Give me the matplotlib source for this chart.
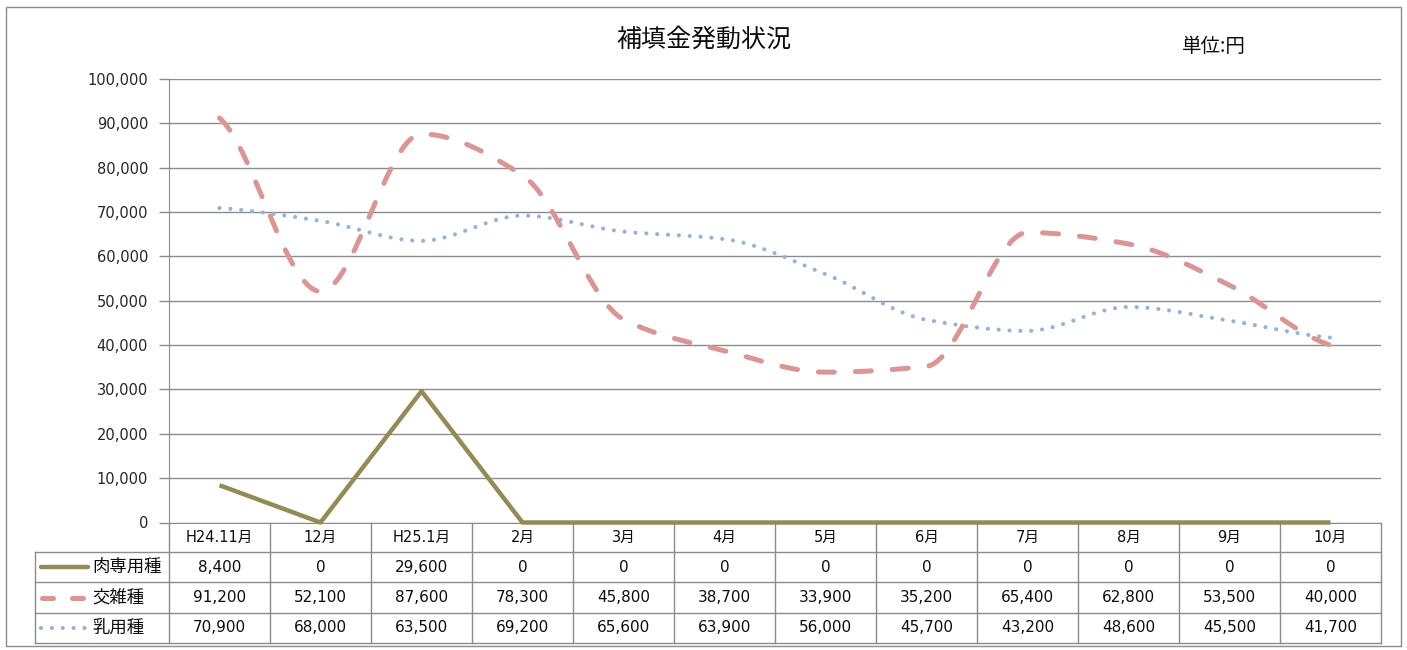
import matplotlib.pyplot as plt
import numpy as np
from matplotlib.path import Path
from matplotlib.patches import PathPatch, Rectangle
from matplotlib.transforms import blended_transform_factory

plt.rcParams['font.family'] = ['DejaVu Sans', 'Noto Sans CJK JP']

# data
months = ['H24.11月', '12月', 'H25.1月', '2月', '3月', '4月', '5月', '6月', '7月', '8月', '9月', '10月']
series_names = ['肉専用種', '交雑種', '乳用種']
niku = [8400, 0, 29600, 0, 0, 0, 0, 0, 0, 0, 0, 0]
kozatsu = [91200, 52100, 87600, 78300, 45800, 38700, 33900, 35200, 65400, 62800, 53500, 40000]
nyuyo = [70900, 68000, 63500, 69200, 65600, 63900, 56000, 45700, 43200, 48600, 45500, 41700]
yticks = [0, 10000, 20000, 30000, 40000, 50000, 60000, 70000, 80000, 90000, 100000]

c_niku = '#948A54'
c_koz = '#D99694'
c_nyu = '#95B3D7'
grid_c = '#8C8C8C'
cjk = ['Noto Sans CJK JP', 'DejaVu Sans']

W, H = 1407, 650
fig = plt.figure(figsize=(W / 100, H / 100), dpi=100)

# overlay in pixel coords for frame / table
ov = fig.add_axes([0, 0, 1, 1], zorder=0)
ov.set_xlim(0, W)
ov.set_ylim(H, 0)
ov.axis('off')
ov.add_patch(Rectangle((6, 7), 1395, 639, fill=False, ec='#8C8C8C', lw=1))

# plot area
x0, x1, ytop, ybot = 169, 1381, 79, 522.5
ax = fig.add_axes([x0 / W, 1 - ybot / H, (x1 - x0) / W, (ybot - ytop) / H], zorder=1)
ax.patch.set_alpha(0)
ax.set_xlim(-0.5, len(months) - 0.5)
ax.set_ylim(0, 100000)
ax.set_yticks(yticks)
ax.set_yticklabels([f'{v:,}' for v in yticks], fontsize=10.5, color='#262626')
ax.tick_params(axis='y', length=7, width=1, color=grid_c, pad=8)
ax.set_xticks([])
ax.grid(axis='y', color=grid_c, lw=1)
ax.set_axisbelow(True)
for s in ['top', 'right']:
    ax.spines[s].set_visible(False)
ax.spines['left'].set_color(grid_c)
ax.spines['bottom'].set_color(grid_c)


def smooth_path(xs, ys):
    # smoothed line through the points, no overshoot at peaks
    x = np.asarray(xs, float)
    y = np.asarray(ys, float)
    d = np.diff(y) / np.diff(x)
    m = np.zeros(len(y))
    for i in range(1, len(y) - 1):
        if d[i - 1] * d[i] > 0:
            m[i] = 2 / (1 / d[i - 1] + 1 / d[i])
    m[0] = d[0] * 0.5
    m[-1] = d[-1] * 0.5
    verts = [(x[0], y[0])]
    codes = [Path.MOVETO]
    for i in range(len(x) - 1):
        h = x[i + 1] - x[i]
        verts += [(x[i] + h / 3, y[i] + m[i] * h / 3),
                  (x[i + 1] - h / 3, y[i + 1] - m[i + 1] * h / 3),
                  (x[i + 1], y[i + 1])]
        codes += [Path.CURVE4] * 3
    return Path(verts, codes)


xs = np.arange(len(months))
pp = PathPatch(smooth_path(xs, nyuyo), fill=False, ec=c_nyu, lw=3,
               ls=(0, (0.01, 2.6)), capstyle='round', zorder=3)
ax.add_patch(pp)
pk = PathPatch(smooth_path(xs, kozatsu), fill=False, ec=c_koz, lw=3.6,
               ls=(0, (3.2, 4.2)), capstyle='round', zorder=4)
ax.add_patch(pk)
ax.plot(xs, niku, color=c_niku, lw=3.2, zorder=5, clip_on=False, solid_capstyle='butt')

# title and unit
fig.text(704 / W, 1 - 40 / H, '補填金発動状況', ha='center', va='center', fontsize=18,
         color='#0D0D0D', family=cjk)
fig.text(1214 / W, 1 - 46 / H, '単位:円', ha='center', va='center', fontsize=14,
         color='#0D0D0D', family=cjk)

# data table below the axis
tr = blended_transform_factory(ax.transData, ov.transData)
rows_y = [522.5, 552, 582, 613, 643]
tc = '#8C8C8C'
for k in range(len(months) + 1):
    ov.plot([k - 0.5, k - 0.5], [rows_y[0], rows_y[-1]], color=tc, lw=1, transform=tr)
for y in rows_y[1:]:
    ov.plot([35, x1], [y, y], color=tc, lw=1)
ov.plot([35, 35], [rows_y[1], rows_y[-1]], color=tc, lw=1)

yc = [(rows_y[i] + rows_y[i + 1]) / 2 for i in range(4)]
for i, m in enumerate(months):
    ov.text(i, yc[0], m, ha='center', va='center', fontsize=10.5, color='#0D0D0D', transform=tr)
for r, vals in enumerate([niku, kozatsu, nyuyo]):
    for i, v in enumerate(vals):
        ov.text(i, yc[r + 1], f'{v:,}', ha='center', va='center', fontsize=11,
                color='#0D0D0D', transform=tr)

# legend keys inside table
ov.plot([41, 88], [yc[1], yc[1]], color=c_niku, lw=3.2, solid_capstyle='round')
ov.plot([42, 88], [yc[2], yc[2]], color=c_koz, lw=3.6, ls=(0, (2.2, 3.8)), dash_capstyle='round')
ov.plot([41, 88], [yc[3], yc[3]], color=c_nyu, lw=3, ls=(0, (0.01, 2.6)), dash_capstyle='round')
for r, name in enumerate(series_names):
    ov.text(92, yc[r + 1], name, ha='left', va='center', fontsize=12.5, color='#0D0D0D',
            family=cjk)

fig.savefig('out.png', dpi=100)
